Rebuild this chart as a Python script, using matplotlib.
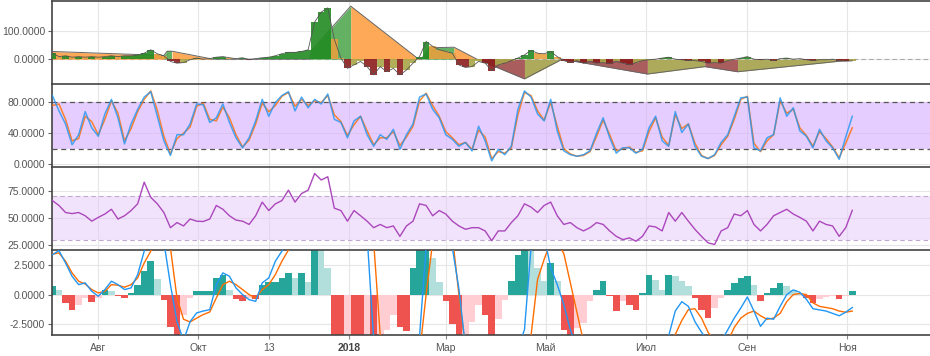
import matplotlib
matplotlib.use("Agg")
import matplotlib.pyplot as plt
import pandas as pd

plt.rcParams['font.family'] = ['Liberation Sans', 'DejaVu Sans']

# sampled every 4 days from 2017-07-04
dates = pd.date_range('2017-07-04', periods=123, freq='4D')

# top panel: spiky oscillator
osc = [21, 9, 12, 7, 9, 7, 9, 7, 9, 12,
       9, 12, 12, 15, 21, 33, 19, 12, -8, -14,
       -12, -2, 4, 0, 2, 7, 9, 5, 2, 5,
       -2, 2, 5, 7, 12, 19, 24, 24, 27, 33,
       130, 165, 180, 70, 4, -32, -20, -8, -26, -55,
       -26, -44, -32, -55, -38, -14, 9, 62, 45, 33,
       27, 21, -20, -29, -26, -8, -14, -40, -20, -14,
       -5, 4, 15, 31, 21, 19, 27, 9, -5, -12,
       -5, -14, -8, -14, -12, -16, -8, -14, -20, -12,
       -5, -2, 0, 4, 7, 0, -2, -5, -5, -8,
       -14, -12, -14, -5, 0, 4, 9, 0, -2, 0,
       -5, 2, 4, 0, 2, -2, -5, -2, -2, 0,
       -5, -7, -6]

# top panel: slow envelope (turning points)
env_dates = ['2017-07-04', '2017-09-10', '2017-09-12', '2017-09-15', '2017-10-10',
             '2017-12-08', '2017-12-09', '2018-01-02', '2018-02-12', '2018-02-14',
             '2018-02-19', '2018-03-06', '2018-03-20', '2018-04-18', '2018-05-11',
             '2018-07-02', '2018-08-06', '2018-08-26', '2018-11-03']
env_vals = [27, 13, 28, 28, 0, 0, 30, 186, 2, 0, 40, 42, 0, -69, 0, -52, -26, -44, -3]

# stochastic
stoch_k = [89, 69, 52, 25, 38, 68, 47, 36, 65, 84,
           60, 26, 52, 71, 87, 94, 62, 30, 11, 38,
           38, 52, 78, 77, 54, 60, 78, 54, 34, 21,
           34, 56, 84, 62, 80, 89, 94, 69, 87, 73,
           84, 78, 91, 58, 54, 34, 56, 62, 38, 23,
           38, 32, 45, 19, 38, 52, 87, 91, 71, 60,
           38, 32, 23, 28, 17, 49, 30, 4, 19, 12,
           23, 71, 95, 87, 65, 56, 84, 43, 17, 12,
           10, 12, 17, 40, 60, 34, 14, 21, 21, 14,
           19, 47, 62, 30, 23, 68, 41, 52, 23, 10,
           7, 12, 28, 38, 62, 86, 87, 21, 17, 34,
           38, 86, 62, 73, 43, 36, 21, 45, 30, 21,
           6, 35, 62]
stoch_d = [76, 78, 58, 30, 33, 62, 55, 38, 58, 82,
           66, 30, 46, 68, 84, 95, 70, 36, 13, 33,
           40, 48, 75, 79, 58, 56, 74, 60, 38, 22,
           31, 52, 79, 68, 76, 88, 93, 75, 84, 76,
           82, 80, 89, 64, 55, 37, 51, 62, 43, 25,
           34, 34, 42, 24, 35, 49, 82, 92, 76, 62,
           42, 34, 25, 28, 19, 44, 35, 7, 16, 14,
           21, 64, 93, 89, 69, 57, 80, 49, 20, 13,
           10, 11, 16, 36, 57, 38, 17, 20, 22, 15,
           17, 42, 60, 35, 24, 64, 46, 52, 27, 11,
           7, 11, 25, 36, 58, 84, 88, 27, 16, 30,
           38, 82, 66, 71, 47, 37, 23, 42, 33, 22,
           8, 27, 47]

# RSI
rsi = [66, 61.5, 55, 54, 55, 52, 47, 50.5, 53.6, 58,
       49, 52, 56.8, 63, 83, 69, 63, 55, 41, 45.7,
       42.6, 49, 47, 46.7, 49, 61.5, 58, 52, 48, 47,
       44, 52, 64.6, 56.8, 63, 66, 75.6, 64.6, 72.5, 75.6,
       91, 85, 88, 59, 56.8, 47, 56.8, 52, 47, 41,
       44, 41, 42.6, 33, 42.6, 47, 63, 61.5, 52, 56.8,
       53.6, 47, 42.6, 39.5, 41, 41, 38, 29, 38, 38,
       45.7, 52, 63, 60, 55, 61.5, 64.6, 52, 44, 45.7,
       41, 38, 41, 45.7, 44, 38, 33, 30, 31.6, 28.5,
       33, 42.6, 41.7, 38, 55, 47, 55, 47, 39.5, 33,
       27, 25.5, 38, 41, 53.6, 52, 56.8, 44, 38, 44,
       52, 55, 58, 53.6, 50.5, 47, 38, 47, 44, 42.6,
       33, 41, 57]

# MACD
macd_hist = [0.7, 0.4, -0.7, -1.3, -0.85, -0.3, -0.6, -0.3, 0.4, 0.3,
             -0.15, -0.3, 0.15, 0.85, 2.0, 2.85, 1.3, -0.5, -2.8, -3.6,
             -1.7, -0.3, 0.3, 0.3, 0.3, 1.4, 1.7, 0.4, -0.4, -0.55,
             -0.3, -0.4, 0.85, 1.1, 1.1, 1.4, 1.85, 1.4, 1.85, 1.1,
             4.2, 4.0, 2.3, -3.6, -3.7, -3.5, -3.6, -3.8, -3.7, -3.9,
             -3.5, -3.0, -1.7, -2.8, -3.1, 2.3, 4.0, 4.1, 3.1, 1.1,
             -0.55, -2.5, -3.6, -3.5, -2.3, -0.85, -1.7, -3.6, -2.1, -0.43,
             1.14, 3.4, 4.0, 3.9, 2.3, 1.14, 2.7, 1.14, -3.0, -3.6,
             -2.84, -2.4, -0.57, 0.43, 1.14, -0.1, -1.4, -0.57, -0.85, -1.28,
             0.14, 1.7, 1.28, 0.43, 1.7, 1.56, 1.14, 0.7, -0.28, -1.28,
             -2.0, -1.14, -0.28, 0.43, 1.0, 1.42, 1.56, 0.85, -0.57, 0.14,
             0.57, 1.0, 0.7, 0.43, 0.14, -0.28, -0.7, -0.34, -0.23, -0.14,
             -0.34, -0.1, 0.28]
macd_line = [3.4, 3.75, 2.7, 1.56, 0.85, 1.0, 0.28, -0.14, 0.43, 1.14,
             0.85, 0.43, 0.57, 1.7, 3.7, 5.5, 6.0, 4.5, 0.85, -2.3,
             -3.9, -2.3, -1.56, -1.4, -1.28, 0.85, 1.85, 1.56, 0.57, 0.0,
             -0.43, -0.57, 1.0, 1.42, 2.84, 3.7, 4.5, 6, 6, 6,
             6, 6, 6, 6, 6, 6, 6, 6, 5, -3.8,
             -5, -5, -5, -5, -5, -5, -3.5, 4, 5, 5,
             5, 4, 0.5, -4.5, -5, -5, -5, -5, -5, -5,
             -5, -4.5, -3, 4, 5, 5, 2.3, 0.85, -0.85, -3.0,
             -4.5, -5, -5, -5, -5, -5, -5, -5, -5, -5,
             -5, -5, -5, -5, -3.5, -1.4, -0.6, -1.0, -2.3, -3.2,
             -4, -5, -4.0, -3.0, -2.0, -1.14, -0.2, -1.4, -2.7, -2.0,
             -2.1, -1.0, 0, 0.4, 0.2, -0.4, -1.2, -1.3, -1.4, -1.6,
             -1.8, -1.5, -1.1]
macd_signal = [3.45, 3.55, 2.85, 1.85, 1.14, 0.9, 0.43, 0.14, 0.28, 0.85,
               0.8, 0.63, 0.85, 1.42, 2.7, 3.7, 5, 5, 4, -0.28,
               -2.1, -2.33, -2.0, -1.7, -1.48, -0.28, 0.85, 1.14, 0.85, 0.43,
               0.0, -0.28, 0.43, 0.85, 1.7, 2.84, 3.8, 6, 6, 6,
               6, 6, 6, 6, 6, 6, 6, 6, 6, 4.5,
               -3.5, -5, -5, -5, -5, -5, -5, 0, 4.5, 6,
               6, 5, 0, -4.5, -5, -5, -5, -5, -5, -5,
               -5, -5, -4.5, -3.5, 1.3, 3.0, 4.5, 4.5, 3.5, 1.0,
               -1.5, -4, -5, -5, -5, -5, -5, -5, -5, -5,
               -5, -5, -5, -5, -5, -3.4, -2.2, -1.28, -1.2, -2.0,
               -3.2, -4, -5, -4, -2.8, -2.0, -1.6, -1.4, -1.8, -2.1,
               -2.0, -1.6, -0.6, 0.0, 0.1, 0.0, -0.7, -1.0, -1.1, -1.2,
               -1.4, -1.5, -1.4]

tick_dates = ['2017-08-01', '2017-10-01', '2017-11-13', '2018-01-01', '2018-03-01',
              '2018-05-01', '2018-07-01', '2018-09-01', '2018-11-01']
tick_labels = ['Авг', 'Окт', '13', '2018', 'Мар', 'Май', 'Июл', 'Сен', 'Ноя']

tick_dates = pd.to_datetime(tick_dates)
env_dates = pd.to_datetime(env_dates)

fig = plt.figure(figsize=(9.3, 3.56), dpi=100)
L = 52 / 930
W = 1 - L
ax1 = fig.add_axes([L, 272 / 356, W, 83 / 356])
ax2 = fig.add_axes([L, 189 / 356, W, 83 / 356], sharex=ax1)
ax3 = fig.add_axes([L, 106 / 356, W, 83 / 356], sharex=ax1)
ax4 = fig.add_axes([L, 21 / 356, W, 85 / 356], sharex=ax1)
axes = [ax1, ax2, ax3, ax4]

# --- panel 1
for k in range(len(env_vals) - 1):
    v0, v1 = env_vals[k], env_vals[k + 1]
    if v0 == 0 and v1 == 0:
        continue
    if v0 + v1 >= 0:
        c = '#5cad5c' if v1 >= v0 else '#fda54f'
    else:
        c = '#a65454' if v1 < v0 else '#aaa653'
    ax1.fill_between(env_dates[k:k + 2], env_vals[k:k + 2], 0, color=c, lw=0, alpha=0.95, zorder=2)
ax1.plot(env_dates, env_vals, color='#666666', lw=0.7, zorder=3)

osc_colors = []
for k, v in enumerate(osc):
    prev = osc[k - 1] if k > 0 else v
    if v >= 0:
        osc_colors.append('#228b22' if v >= prev else '#e8a040')
    else:
        osc_colors.append('#8b1c1c' if v < prev else '#a9a547')
ax1.bar(dates, osc, width=4, color=osc_colors, lw=0, alpha=0.9, zorder=4)
ax1.plot(dates, osc, color='#555555', lw=0.6, zorder=5)
ax1.axhline(0, color='#aaaaaa', lw=0.8, ls=(0, (4, 3)), zorder=1)
ax1.set_ylim(-87, 204)
ax1.set_yticks([0, 100])

# --- panel 2
ax2.axhspan(20, 80, color='#d6adff', alpha=0.6, lw=0, zorder=1)
for lv in (20, 80):
    ax2.axhline(lv, color='#555555', lw=0.9, ls=(0, (4, 3)), zorder=2)
ax2.plot(dates, stoch_d, color='#ff6d00', lw=1.1, alpha=0.8, zorder=3)
ax2.plot(dates, stoch_k, color='#2196f3', lw=1.1, alpha=0.8, zorder=4)
ax2.set_ylim(-4, 104)
ax2.set_yticks([0, 40, 80])

# --- panel 3
ax3.axhspan(30, 70, color='#e6c8fb', alpha=0.5, lw=0, zorder=1)
for lv in (30, 70):
    ax3.axhline(lv, color='#c0a8d0', lw=0.8, ls=(0, (4, 3)), zorder=2)
ax3.plot(dates, rsi, color='#ab47bc', lw=1.0, zorder=3)
ax3.set_ylim(20.4, 97)
ax3.set_yticks([25, 50, 75])

# --- panel 4
hist_colors = []
for k, v in enumerate(macd_hist):
    prev = macd_hist[k - 1] if k > 0 else v
    if v >= 0:
        hist_colors.append('#26a69a' if v >= prev else '#b2dfdb')
    else:
        hist_colors.append('#ef5350' if v <= prev else '#ffcdd2')
ax4.bar(dates, macd_hist, width=4, color=hist_colors, lw=0, zorder=2)
ax4.plot(dates, macd_signal, color='#ff6d00', lw=1.0, zorder=3)
ax4.plot(dates, macd_line, color='#2196f3', lw=1.0, zorder=4)
ax4.set_ylim(-3.44, 3.8)
ax4.set_yticks([-2.5, 0, 2.5])

for ax in axes:
    ax.set_xticks(tick_dates)
    ax.grid(True, color='#e6e6e6', lw=0.8, zorder=0)
    ax.set_axisbelow(True)
    ax.yaxis.set_major_formatter(matplotlib.ticker.FormatStrFormatter('%.4f'))
    ax.tick_params(axis='y', labelsize=7.5, colors='#666666', length=3, width=0.8, pad=2)
    ax.tick_params(axis='y', labelcolor='#555555')
    for s in ('right', 'bottom'):
        ax.spines[s].set_visible(False)
    for s in ('top', 'left'):
        ax.spines[s].set_color('#444444')
        ax.spines[s].set_linewidth(1.2)
    ax.set_facecolor('white')

for ax in axes[:3]:
    ax.tick_params(axis='x', length=0, labelbottom=False)

ax4.spines['bottom'].set_visible(True)
ax4.spines['bottom'].set_color('#444444')
ax4.spines['bottom'].set_linewidth(1.2)
ax4.set_xticklabels(tick_labels)
ax4.tick_params(axis='x', labelsize=7.5, colors='#888888', labelcolor='#555555', length=3, pad=3)
for lab in ax4.get_xticklabels():
    if lab.get_text() == '2018':
        lab.set_fontweight('bold')
        lab.set_color('#444444')

ax1.set_xlim(pd.Timestamp('2017-07-03 18:00'), pd.Timestamp('2018-12-21 10:00'))

fig.savefig('out.png', dpi=100, facecolor='white')
